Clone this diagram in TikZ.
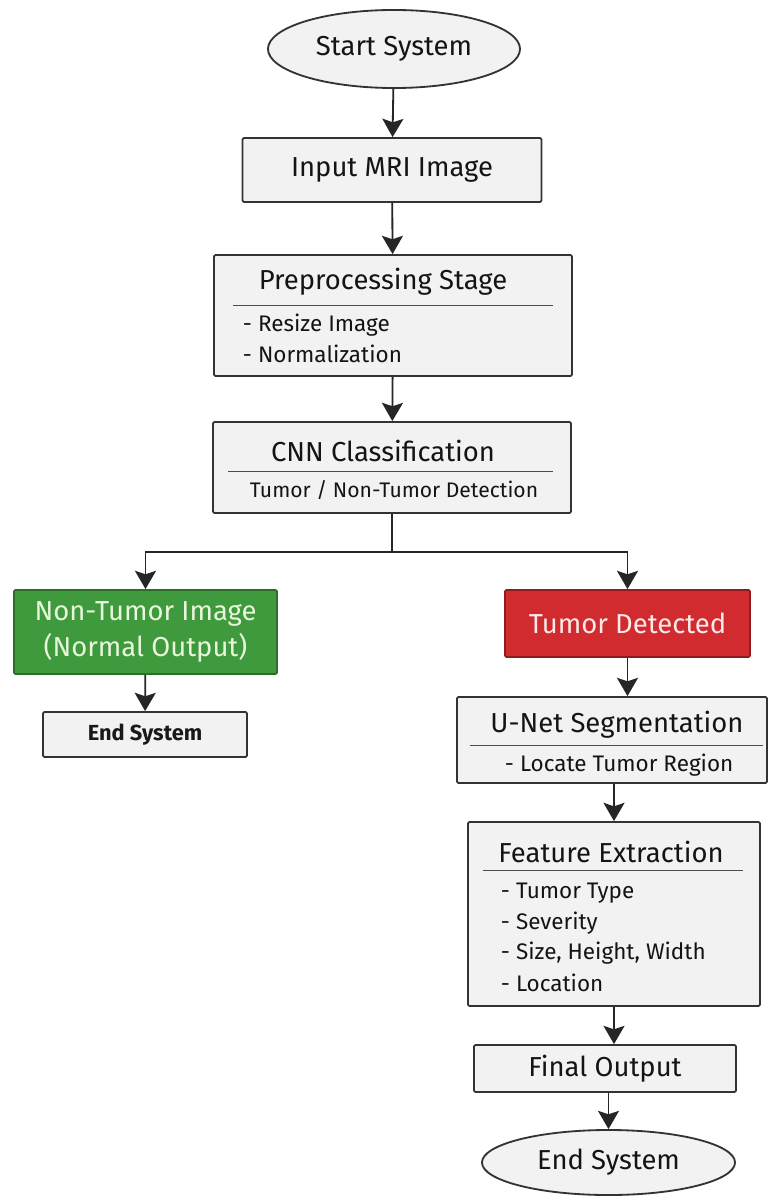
\documentclass[tikz,border=0pt]{standalone}
\usepackage{fontspec}
\setmainfont{Fira Sans}
\usetikzlibrary{arrows.meta,shapes.geometric}

\definecolor{boxfill}{HTML}{F2F2F2}
\definecolor{boxline}{HTML}{333333}
\definecolor{okgreen}{HTML}{3E9A3C}
\definecolor{okgreenline}{HTML}{2C6E2B}
\definecolor{okgreentext}{HTML}{E8F6DC}
\definecolor{alertred}{HTML}{D12A2F}
\definecolor{alertredline}{HTML}{8E1C1E}
\definecolor{alertredtext}{HTML}{FDE9E9}

\begin{document}
\begin{tikzpicture}[x=0.025cm, y=-0.025cm,
	>={Stealth[length=13pt,width=15pt,inset=2.5pt]},
	box/.style={draw=boxline, line width=1.3pt, fill=boxfill, rounded corners=1pt},
	term/.style={ellipse, draw=boxline, line width=1.3pt, fill=boxfill},
	head/.style={font=\fontsize{19.5}{25}\selectfont, text=black!92},
	item/.style={font=\fontsize{16}{19}\selectfont, text=black!92, anchor=west},
	rule/.style={line width=0.6pt, black!70},
	arr/.style={->, line width=1.3pt, black!85}]

	% picture frame
	\useasboundingbox (0,0) rectangle (768,1201);

	% start and input
	\node[term, head, minimum width=6.3cm, minimum height=1.95cm] (start) at (394,49) {Start System};
	\node[box, head, minimum width=7.475cm, minimum height=1.6cm] (input) at (392,170) {Input MRI Image};

	% preprocessing stage
	\node[box, minimum width=8.95cm, minimum height=3.025cm] (prep) at (393,315.5) {};
	\node[head] (preptitle) at (383,282) {Preprocessing Stage};
	\draw[rule] (233,305) -- (553,305);
	\node[item] (resize) at (238,325) {- Resize Image};
	\node[item] (norm) at (238,354) {- Normalization};

	% cnn classification
	\node[box, minimum width=8.95cm, minimum height=2.275cm] (cnn) at (392,467.5) {};
	\node[head] (cnntitle) at (383,451) {CNN Classification};
	\draw[rule] (228,471) -- (553,471);
	\node[font=\fontsize{15}{18}\selectfont, text=black!92] (cnnsub) at (394,490) {Tumor / Non-Tumor Detection};

	% normal branch
	\node[box, draw=okgreenline, fill=okgreen, head, text=okgreentext, align=center,
		minimum width=6.575cm, minimum height=2.1cm] (nontumor) at (145.5,632)
		{Non-Tumor Image\\(Normal Output)};
	\node[box, font=\fontsize{15.5}{18}\selectfont\bfseries, text=black!90,
		minimum width=5.1cm, minimum height=1.125cm] (endleft) at (145,734.5) {End System};

	% tumor branch
	\node[box, draw=alertredline, fill=alertred, head, text=alertredtext,
		minimum width=6.125cm, minimum height=1.675cm] (tumor) at (627.5,623.5) {Tumor Detected};

	% u-net segmentation
	\node[box, minimum width=7.75cm, minimum height=2.15cm] (unet) at (612,740) {};
	\node[head] (unettitle) at (617,725) {U-Net Segmentation};
	\draw[rule] (470,745) -- (763,745);
	\node[item] (locate) at (500,765) {- Locate Tumor Region};

	% feature extraction
	\node[box, minimum width=7.3cm, minimum height=4.6cm] (feature) at (614,914) {};
	\node[head] (feattitle) at (611,852) {Feature Extraction};
	\draw[rule] (483,870) -- (743,870);
	\node[item] (ftype) at (496,893) {- Tumor Type};
	\node[item] (fsev) at (496,923) {- Severity};
	\node[item] (fsize) at (496,953) {- Size, Height, Width};
	\node[item] (floc) at (496,983) {- Location};

	% final output and end
	\node[box, head, minimum width=6.55cm, minimum height=1.175cm] (final) at (605,1068.5) {Final Output};
	\node[term, head, minimum width=6.325cm, minimum height=1.625cm] (endsys) at (608.5,1162.5) {End System};

	% split into two branches
	\coordinate (split) at (392,552);
	\draw[line width=1.3pt, black!85] (cnn) -- (split);
	\draw[arr] (split) -| (nontumor);
	\draw[arr] (split) -| (tumor);

	% connectors
	\draw[arr] (start) -- (input);
	\draw[arr] (input) -- (prep);
	\draw[arr] (prep) -- (cnn);
	\draw[arr] (nontumor) -- (endleft);
	\draw[arr] (tumor) -- (tumor |- unet.north);
	\draw[arr] (feature |- unet.south) -- (feature);
	\draw[arr] (feature) -- (feature |- final.north);
	\draw[arr] (endsys |- final.south) -- (endsys);

\end{tikzpicture}
\end{document}
